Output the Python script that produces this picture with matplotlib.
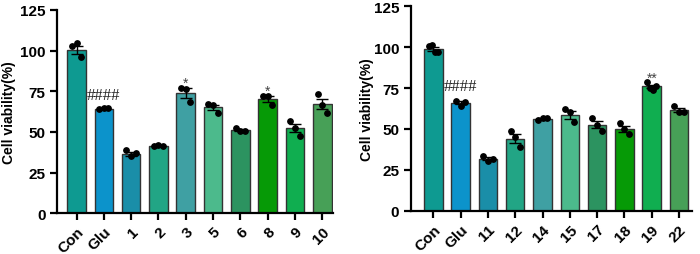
import numpy as np
import matplotlib.pyplot as plt

plt.rcParams["font.family"] = ["Liberation Sans", "DejaVu Sans"]

LEFT_LABELS = ["Con", "Glu", "1", "2", "3", "5", "6", "8", "9", "10"]
LEFT_MEANS = [100.3, 64.2, 36.4, 41.6, 74.0, 65.1, 51.3, 70.3, 52.5, 67.1]
LEFT_POINTS = [
    [103.0, 104.5, 96.0],
    [64.0, 64.5, 64.5],
    [39.0, 34.9, 36.9],
    [41.4, 41.8, 41.6],
    [77.2, 76.5, 68.3],
    [67.3, 66.3, 61.8],
    [52.6, 50.6, 50.7],
    [72.0, 72.2, 66.5],
    [56.7, 52.4, 47.5],
    [73.2, 66.3, 61.8],
]
LEFT_MARKS = {1: "####", 4: "*", 7: "*"}

RIGHT_LABELS = ["Con", "Glu", "11", "12", "14", "15", "17", "18", "19", "22"]
RIGHT_MEANS = [98.9, 65.9, 31.8, 44.1, 56.2, 58.6, 52.5, 50.1, 76.0, 61.4]
RIGHT_POINTS = [
    [101.0, 101.2, 97.3, 97.0],
    [67.3, 64.2, 66.3],
    [33.6, 30.6, 31.4],
    [48.9, 44.9, 39.1],
    [55.6, 56.5, 56.4],
    [62.2, 60.2, 54.1],
    [56.5, 52.4, 48.9],
    [53.6, 50.0, 46.7],
    [78.5, 74.9, 73.8, 76.5],
    [63.9, 60.2, 60.2],
]
RIGHT_MARKS = {1: "####", 8: "**"}

BAR_COLORS = ["#0e9a91", "#0c93cb", "#1a8ea8", "#22a585", "#3fa0a3",
              "#4cba8c", "#2c9360", "#069a06", "#10ae50", "#47a057"]


def draw_panel(ax, labels, means, points, marks, xlim, hash_gap):
    x = np.arange(len(labels))
    ax.bar(x, means, width=0.68, color=BAR_COLORS, edgecolor="#333333",
           linewidth=1.0, zorder=2)

    for i, pts in enumerate(points):
        pts = np.array(pts)
        sem = pts.std(ddof=1) / np.sqrt(len(pts))
        ax.errorbar(x[i], means[i], yerr=sem, color="black", capsize=4,
                    elinewidth=1.0, capthick=1.0, zorder=3)
        offsets = np.linspace(-0.17, 0.17, len(pts))
        ax.scatter(x[i] + offsets, pts, s=15, color="black", zorder=4)

    for i, text in marks.items():
        if text.startswith("#"):
            ax.text(x[i], means[i] + hash_gap, text, ha="center", va="center",
                    fontsize=12, family="Liberation Serif", color="#222222")
        else:
            ax.text(x[i], max(points[i]) + 3, text, ha="center", va="center",
                    fontsize=10, color="#444444")

    ax.set_xlim(*xlim)
    ax.set_ylim(0, 125)
    ax.set_yticks([0, 25, 50, 75, 100, 125])
    ax.set_xticks(x)
    ax.set_xticklabels(labels, rotation=45, ha="right", rotation_mode="anchor",
                       fontweight="bold", fontsize=11)
    for lab in ax.get_yticklabels():
        lab.set_fontweight("bold")
        lab.set_fontsize(11)
    ax.set_ylabel("Cell viability(%)", fontweight="bold", fontsize=10)
    ax.spines["top"].set_visible(False)
    ax.spines["right"].set_visible(False)
    ax.spines["left"].set_linewidth(1.6)
    ax.spines["bottom"].set_linewidth(1.6)
    ax.tick_params(axis="both", width=1.6, length=5, direction="out")
    ax.tick_params(axis="x", pad=3)


def main():
    fig = plt.figure(figsize=(7, 2.55), dpi=100)
    ax1 = fig.add_axes([0.082, 0.160, 0.394, 0.797])
    ax2 = fig.add_axes([0.587, 0.170, 0.401, 0.801])

    draw_panel(ax1, LEFT_LABELS, LEFT_MEANS, LEFT_POINTS, LEFT_MARKS, (-0.7, 9.4), 8.5)
    draw_panel(ax2, RIGHT_LABELS, RIGHT_MEANS, RIGHT_POINTS, RIGHT_MARKS, (-0.82, 9.46), 10.5)

    ax1.yaxis.set_label_coords(-0.15, 0.5)
    ax2.yaxis.set_label_coords(-0.133, 0.5)

    fig.savefig("out.png", dpi=100)
    plt.close(fig)


if __name__ == "__main__":
    main()
